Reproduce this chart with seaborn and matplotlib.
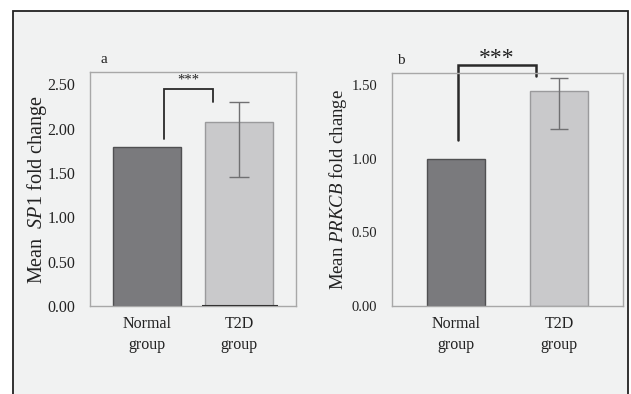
import matplotlib
matplotlib.use("Agg")
import matplotlib.pyplot as plt
import seaborn as sns
import pandas as pd
from matplotlib.patches import Rectangle

# ---- data ----
groups = ["Normal\ngroup", "T2D\ngroup"]
sp1_mean = [1.79, 2.08]
sp1_err_low = [0.0, 0.63]
sp1_err_high = [0.0, 0.22]
prkcb_mean = [1.00, 1.46]
prkcb_err_low = [0.0, 0.26]
prkcb_err_high = [0.0, 0.085]
yticks_a = [0.0, 0.5, 1.0, 1.5, 2.0, 2.5]
yticks_b = [0.0, 0.5, 1.0, 1.5]
# significance brackets (x0, x1, y_left, y_top, y_right)
bracket_a = [0.18, 0.72, 1.88, 2.45, 2.30]
bracket_b = [0.02, 0.78, 1.13, 1.635, 1.565]

sns.set_theme(style="white")
plt.rcParams["font.family"] = ["Liberation Serif", "DejaVu Serif"]
plt.rcParams["mathtext.fontset"] = "custom"
plt.rcParams["mathtext.rm"] = "Liberation Serif"
plt.rcParams["mathtext.it"] = "Liberation Serif:italic"

bg = "#f1f2f2"
fig = plt.figure(figsize=(6.31, 3.94), dpi=100, facecolor="white")
fig.patches.append(Rectangle((13/631, -0.05), (628-13)/631, 1 - 11/394 + 0.05,
                             transform=fig.transFigure, facecolor=bg,
                             edgecolor="#222222", linewidth=1.3, zorder=-10))

colors = ["#7a7a7d", "#c9c9cb"]
edges = ["#505052", "#9a9a9c"]

def panel(rect, means, lo, hi, yticks, ylim, xlim, width, label, label_x, ylab,
          ylab_size, ylab_x, tick_size, bracket, star_size, star_y, bl_lw, cap):
    ax = fig.add_axes(rect)
    ax.set_facecolor(bg)
    df = pd.DataFrame({"group": groups, "value": means})
    sns.barplot(data=df, x="group", y="value", hue="group", palette=colors,
                width=width, ax=ax, legend=False, saturation=1)
    for p, ec in zip(ax.patches, edges):
        p.set_edgecolor(ec)
        p.set_linewidth(1.0)
    ax.errorbar([1], [means[1]], yerr=[[lo[1]], [hi[1]]], fmt="none",
                ecolor="#707072", elinewidth=1.0, capsize=cap, capthick=1.0)
    ax.set_ylim(*ylim)
    ax.set_xlim(*xlim)
    ax.set_yticks(yticks)
    ax.set_yticklabels([f"{t:.2f}" for t in yticks], fontsize=tick_size,
                       color="#222222")
    ax.set_xticks([0, 1])
    ax.set_xticklabels(groups, fontsize=11.5, color="#222222", linespacing=1.4)
    ax.set_xlabel("")
    ax.set_ylabel(ylab, fontsize=ylab_size, color="#222222")
    ax.yaxis.set_label_coords(ylab_x, 0.5)
    ax.tick_params(axis="y", length=2.5, color="#999999", pad=8)
    ax.tick_params(axis="x", length=0, pad=7)
    for s in ax.spines.values():
        s.set_color("#a8a8a8")
        s.set_linewidth(1.0)
    x0, x1, yl, yt, yr = bracket
    ax.plot([x0, x0, x1, x1], [yl, yt, yt, yr], color="#2a2a2a", lw=bl_lw,
            clip_on=False, solid_joinstyle="miter")
    ax.text((x0 + x1) / 2, star_y, "***", ha="center", va="center",
            fontsize=star_size, color="#222222", clip_on=False)
    ax.text(label_x, 1.055, label, transform=ax.transAxes, fontsize=11,
            ha="left", va="center", color="#222222")
    return ax

ax_a = panel([90/631, 1 - 306/394, 206/631, 234/394], sp1_mean, sp1_err_low,
             sp1_err_high, yticks_a, (0, 2.64), (-0.62, 1.62), 0.73, "a", 0.05,
             r"Mean  $\mathit{SP1}$ fold change", 14.5, -0.20, 11.5,
             bracket_a, 10.5, 2.55, 1.3, 7)
ax_a.hlines(0, 0.6, 1.42, color="#333333", lw=1.5, zorder=5)

ax_b = panel([392/631, 1 - 306/394, 230.7/631, 232.7/394], prkcb_mean, prkcb_err_low,
             prkcb_err_high, yticks_b, (0, 1.58), (-0.62, 1.62), 0.563, "b", 0.02,
             r"Mean $\mathit{PRKCB}$ fold change", 13.5, -0.188, 10.5,
             bracket_b, 17, 1.68, 1.8, 6.5)

fig.savefig("out.png", dpi=100, facecolor="white")
